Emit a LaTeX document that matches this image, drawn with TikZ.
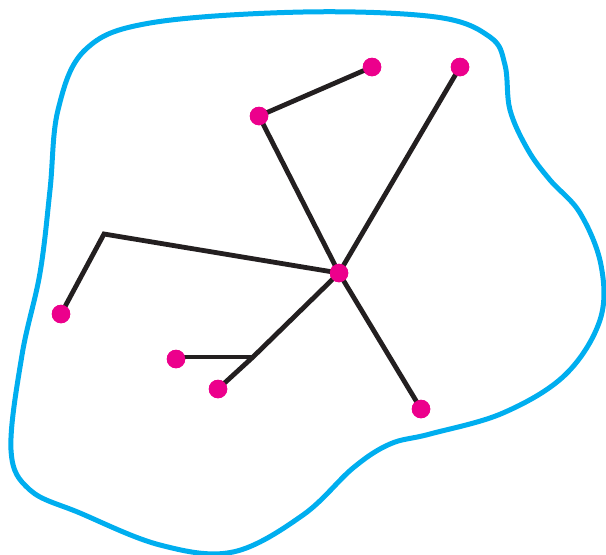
\documentclass[tikz,border=0pt]{standalone}
\definecolor{blobcyan}{HTML}{00AEEF}
\definecolor{dotmag}{HTML}{EC008C}
\definecolor{linedark}{HTML}{231F20}
\begin{document}
\begin{tikzpicture}[x=1pt,y=-1pt,
  dotnode/.style={circle,fill=dotmag,draw=none,minimum size=18.5pt,inner sep=0pt},
  edge/.style={draw=linedark,line width=4.8pt,line join=miter},
  blob/.style={draw=blobcyan,line width=5pt}]
\useasboundingbox (0,0) rectangle (606,555);
\draw[blob] plot[smooth cycle,tension=0.6] coordinates {
 (303,12) (436,17) (490,37) (505,65) (510,110) (528,150) (550,180) (580,213)
 (601,265) (600,320) (565,375) (503,413) (430,434) (390,444) (353,468)
 (303,515) (233,552) (160,545) (80,513) (30,490) (11,450)
 (22,355) (40,273) (50,190) (58,110) (85,50) (150,23)};
\coordinate (E) at (104,234);
\coordinate (G) at (253,357);
\node[dotnode] (C) at (339,273) {};
\node[dotnode] (A) at (259,116) {};
\node[dotnode] (B) at (372,67) {};
\node[dotnode] (D) at (460,67) {};
\node[dotnode] (F) at (61,314) {};
\node[dotnode] (H) at (176,359) {};
\node[dotnode] (I) at (218,389) {};
\node[dotnode] (J) at (421,409) {};
\path[edge] (B.center) -- (A.center) -- (C.center);
\path[edge] (D.center) -- (C.center);
\path[edge] (F.center) -- (E) -- (C.center);
\path[edge] (H.center) -- (G -| H.center) -- (G);
\path[edge] (I.center) -- (G) -- (C.center);
\path[edge] (C.center) -- (J.center);
\foreach \n in {C,A,B,D,F,H,I,J}{\node[dotnode] at (\n) {};}
\end{tikzpicture}
\end{document}
